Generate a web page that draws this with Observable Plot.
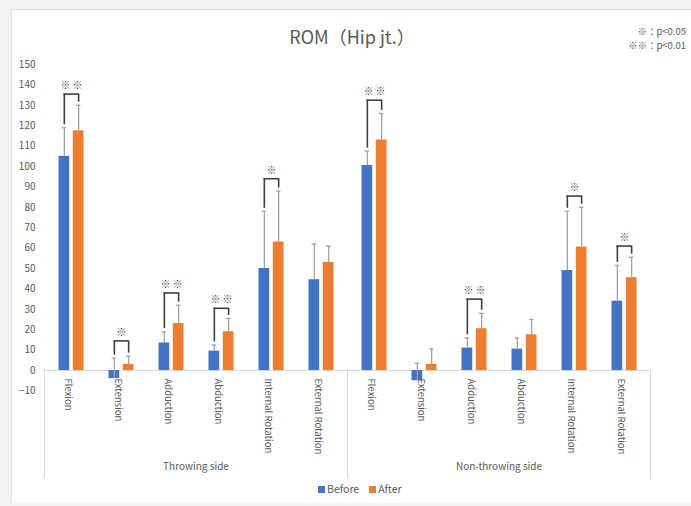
<!DOCTYPE html>
<html>
<head>
<meta charset="utf-8">
<script src="https://cdn.jsdelivr.net/npm/d3@7"></script>
<script src="https://cdn.jsdelivr.net/npm/@observablehq/plot@0.6"></script>
<style>
  html, body { margin: 0; padding: 0; background: #f0f1f3; }
  #page { position: relative; width: 691px; height: 506px; overflow: hidden;
          font-family: "Noto Sans CJK JP", "Noto Sans", sans-serif; color: #595959; }
  #card { position: absolute; left: 11px; top: 9px; right: 0; bottom: 3px; background: #fff;
          border-top: 1px solid #dcdcdc; border-left: 1px solid #e4e4e4; }
  #chart { position: absolute; left: 0; top: 0; }
  #title { position: absolute; left: 0; width: 704px; top: 23px; text-align: center;
           font-size: 18px; line-height: 26px; color: #595959; }
  #notes { position: absolute; right: 5px; top: 24px; text-align: right; font-size: 9.5px;
           color: #595959; }
  #notes div { height: 14px; line-height: 14px; }
  #legend { position: absolute; left: 318px; top: 482px; font-size: 10.5px; line-height: 14px;
            color: #595959; white-space: nowrap; }
  #legend span.sw { display: inline-block; width: 7px; height: 7px; margin-right: 2px; vertical-align: 0px; }
  #legend span.item { margin-right: 10px; }
</style>
</head>
<body>
<div id="page">
  <div id="card"></div>
  <div id="chart"></div>
  <div id="title">ROM（Hip jt.）</div>
  <div id="notes"><div>※：p&lt;0.05</div><div>※※：p&lt;0.01</div></div>
  <div id="legend"></div>
</div>
<script>
// ---- data ----
const groups = ["Throwing side", "Non-throwing side"];
const categories = ["Flexion", "Extension", "Adduction", "Abduction", "Internal Rotation", "External Rotation"];
const seriesNames = ["Before", "After"];
const seriesColors = ["#4472C4", "#ED7D31"];
const yTicks = [-10, 0, 10, 20, 30, 40, 50, 60, 70, 80, 90, 100, 110, 120, 130, 140, 150];

const beforeThrowing      = [105, -4, 13.5, 9.5, 50, 44.5];
const beforeThrowingSD    = [14, 10, 5.5, 3, 28, 17.5];
const afterThrowing       = [117.5, 3, 23, 19, 63, 53];
const afterThrowingSD     = [12.5, 4, 9, 6.5, 25, 8];
const beforeNonThrowing   = [100.5, -5, 11, 10.5, 49, 34];
const beforeNonThrowingSD = [7, 8.5, 5, 5.5, 29, 17.5];
const afterNonThrowing    = [113, 3, 20.5, 17.5, 60.5, 45.5];
const afterNonThrowingSD  = [13, 7.5, 7.5, 7.5, 19.5, 10];

const sigThrowing        = ["※ ※", "※", "※ ※", "※ ※", "※", ""];
const bracketThrowing    = [135.5, 14.5, 38, 30.5, 94, null];
const sigNonThrowing     = ["※ ※", "", "※ ※", "", "※", "※"];
const bracketNonThrowing = [132.5, null, 35, null, 85.5, 61];

// ---- tables built from the arrays ----
const values = {Before: [beforeThrowing, beforeNonThrowing], After: [afterThrowing, afterNonThrowing]};
const sds = {Before: [beforeThrowingSD, beforeNonThrowingSD], After: [afterThrowingSD, afterNonThrowingSD]};
const sigs = [sigThrowing, sigNonThrowing];
const brackets = [bracketThrowing, bracketNonThrowing];

const rows = [];
const catRows = [];
const sigRows = [];
groups.forEach((g, gi) => categories.forEach((c, ci) => {
  catRows.push({group: g, category: c});
  seriesNames.forEach(s => rows.push({group: g, category: c, series: s,
    value: values[s][gi][ci], sd: sds[s][gi][ci]}));
  if (sigs[gi][ci]) sigRows.push({group: g, category: c, stars: sigs[gi][ci], bracket: brackets[gi][ci],
    beforeTop: values.Before[gi][ci] + sds.Before[gi][ci], afterTop: values.After[gi][ci] + sds.After[gi][ci]});
}));

// ---- styling constants ----
const OFF = 7.15;        // half distance between the two bars of a category
const BAR_INSET = 19.65; // leaves an 11px bar in a 50.6px category band
const CAP_INSET = 22.8;  // 5px error caps
const axisGrey = "#d9d9d9";
const errGrey = "#a3a3a3";
const brk = "#404040";
const txt = "#595959";

const marks = [
  Plot.frame({anchor: "top", stroke: axisGrey}),
  Plot.frame({anchor: "left", stroke: axisGrey}),
  Plot.frame({anchor: "right", stroke: axisGrey}),
  Plot.axisY(yTicks, {tickSize: 0, tickPadding: 9, fontSize: 10, fill: txt, label: null}),
];
seriesNames.forEach((s, si) => {
  const data = rows.filter(d => d.series === s);
  const dx = si === 0 ? -OFF : OFF;
  marks.push(
    Plot.barY(data, {fx: "group", x: "category", y1: 0, y2: "value", fill: seriesColors[si],
      insetLeft: BAR_INSET, insetRight: BAR_INSET, dx}),
    Plot.ruleX(data, {fx: "group", x: "category", y1: "value", y2: d => d.value + d.sd, dx,
      stroke: errGrey, strokeWidth: 1.3}),
    Plot.tickY(data, {fx: "group", x: "category", y: d => d.value + d.sd, dx,
      insetLeft: CAP_INSET, insetRight: CAP_INSET, stroke: errGrey, strokeWidth: 1.3})
  );
});
marks.push(
  Plot.ruleX(sigRows, {fx: "group", x: "category", y1: d => d.beforeTop + 1.5, y2: "bracket", dx: -OFF,
    stroke: brk, strokeWidth: 1.6}),
  Plot.ruleX(sigRows, {fx: "group", x: "category", y1: d => d.afterTop + 1.5, y2: "bracket", dx: OFF,
    stroke: brk, strokeWidth: 1.6}),
  Plot.tickY(sigRows, {fx: "group", x: "category", y: "bracket", insetLeft: 25.3 - OFF - 0.8,
    insetRight: 25.3 - OFF - 0.8, stroke: brk, strokeWidth: 1.6}),
  Plot.text(sigRows, {fx: "group", x: "category", y: "bracket", text: "stars", dy: -8,
    fontSize: 10, fill: "#4a4a4a"}),
  Plot.text(catRows, {fx: "group", x: "category", text: "category", frameAnchor: "top",
    rotate: 90, textAnchor: "start", dy: 8, fontSize: 9.5, fill: txt}),
  Plot.text(groups, {fx: d => d, text: d => d, frameAnchor: "bottom", dy: -8, fontSize: 10, fill: txt})
);

const chart = Plot.plot({
  width: 691,
  height: 506,
  marginTop: 370,
  marginBottom: 29,
  marginLeft: 43,
  marginRight: 41,
  style: {background: "transparent", overflow: "visible", fontFamily: '"Noto Sans CJK JP", "Noto Sans", sans-serif'},
  fx: {domain: groups, padding: 0, axis: null, label: null},
  x: {domain: categories, padding: 0, axis: null, label: null},
  y: {domain: [-10, 150], range: [390.4, 64], axis: null, label: null},
  marks
});
document.getElementById("chart").appendChild(chart);

// legend
const legend = document.getElementById("legend");
seriesNames.forEach((s, i) => {
  const item = document.createElement("span");
  item.className = "item";
  const sw = document.createElement("span");
  sw.className = "sw";
  sw.style.background = seriesColors[i];
  item.appendChild(sw);
  item.appendChild(document.createTextNode(s));
  legend.appendChild(item);
});
</script>
</body>
</html>
